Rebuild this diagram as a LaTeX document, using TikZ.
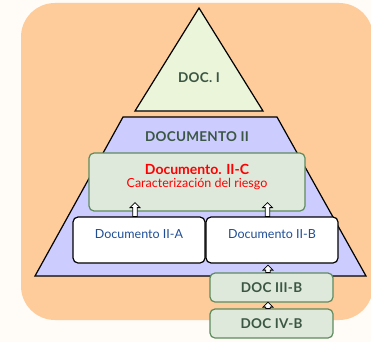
\documentclass[tikz,border=0pt]{standalone}
\usepackage{fontspec}
\setmainfont{Lato}
\newfontfamily\capsfont[LetterSpace=2]{Lato}
\usetikzlibrary{calc}
\definecolor{pageBg}{HTML}{FFFBF6}
\definecolor{panelOrange}{HTML}{FECB9A}
\definecolor{apexGreen}{HTML}{EBF5D9}
\definecolor{tierBlue}{HTML}{CCCCFF}
\definecolor{boxGreen}{HTML}{DEE9DB}
\definecolor{edgeGreen}{HTML}{5E8B5E}
\definecolor{labelGreen}{HTML}{3B5744}
\definecolor{labelBlue}{HTML}{1F4E96}
\tikzset{
  outline/.style={draw=black, line width=1.2pt, line join=miter},
  greenbox/.style={draw=edgeGreen, fill=boxGreen, line width=1.2pt, rounded corners=5pt,
    inner sep=0pt},
  whitebox/.style={draw=black, fill=white, line width=1.2pt, rounded corners=5pt,
    inner sep=0pt, minimum width=132pt, minimum height=46pt},
  doctext/.style={text=labelGreen, font=\capsfont\bfseries\fontsize{13.5}{15}\selectfont},
  subtext/.style={text=labelBlue, font=\fontsize{12.5}{14}\selectfont},
  arrowline/.style={draw=black, fill=white, line width=0.8pt, line join=miter},
}
% hollow block arrow from a base point up to a tip point
\newcommand\blockarr[2]{%
  \path[arrowline] let \p1=#1, \p2=#2 in
    ({\x1-2.3pt},{\y1}) -- ({\x1-2.3pt},{\y2-5pt}) -- ({\x1-5pt},{\y2-5pt}) --
    ({\x1},{\y2}) -- ({\x1+5pt},{\y2-5pt}) -- ({\x1+2.3pt},{\y2-5pt}) --
    ({\x1+2.3pt},{\y1}) -- cycle;}
\begin{document}
\begin{tikzpicture}[x=1pt, y=-1pt]
  \useasboundingbox (0,0) rectangle (371,342);
  \fill[pageBg] (0,0) rectangle (371,342);
  % orange panel
  \fill[panelOrange, rounded corners=34pt] (21,3) rectangle (373,320);
  % apex triangle
  \path[outline, fill=apexGreen] (199,8) -- (263,111) -- (135,111) -- cycle;
  \node[doctext] (d1) at (199,78) {DOC. I};
  % second tier trapezoid
  \path[outline, fill=tierBlue] (123,117) -- (277,117) -- (366,276) -- (35,276) -- cycle;
  \node[doctext] (d2) at (197,137) {DOCUMENTO II};
  % inner documents
  \node[greenbox, minimum width=216pt, minimum height=58pt,
    label={[yshift=5pt, align=center, text=red, font=\fontsize{12.5}{12.5}\selectfont]center:%
      {\bfseries\fontsize{14}{13}\selectfont Documento. II-C}\\Caracterización del riesgo}]
    (c) at (197,182) {};
  \node[whitebox, label={[subtext, yshift=6pt]center:Documento II-A}] (a) at (139,240) {};
  \node[whitebox, label={[subtext, yshift=6pt]center:Documento II-B}] (b) at (272,240) {};
  \node[greenbox, minimum width=123pt, minimum height=29pt, doctext] (d3) at (271.5,287.5) {DOC III-B};
  \node[greenbox, minimum width=123pt, minimum height=29pt, doctext] (d4) at (271.5,323.5) {DOC IV-B};
  % flow arrows
  \blockarr{([xshift=-4pt]a.north)}{([xshift=-4pt, yshift=9pt]c.south)}
  \blockarr{([xshift=-4.5pt]b.north)}{([xshift=-4.5pt, yshift=9pt]c.south)}
  \blockarr{([xshift=-3.5pt]d3.north)}{([xshift=-3.5pt, yshift=-1.5pt]b.south)}
  \blockarr{([xshift=-3.5pt]d4.north)}{([xshift=-3.5pt, yshift=0.5pt]d3.south)}
\end{tikzpicture}
\end{document}
